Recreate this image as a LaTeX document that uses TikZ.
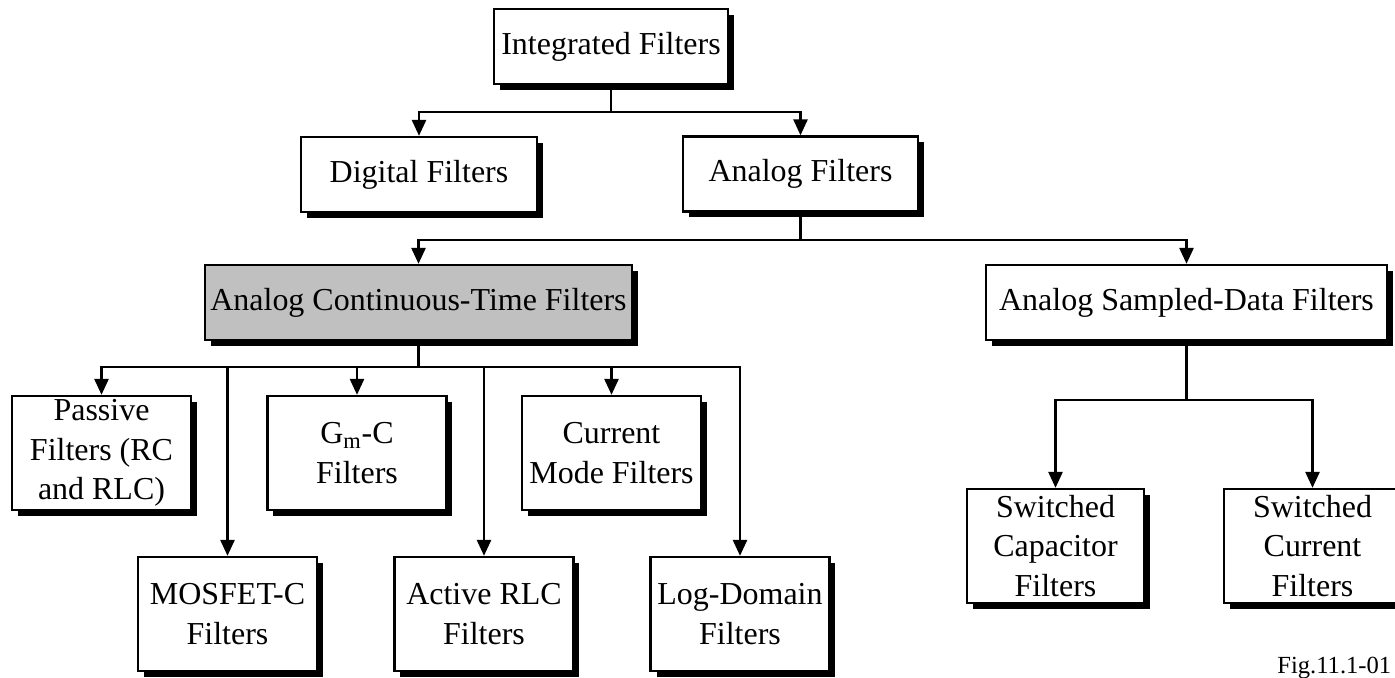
\documentclass[tikz,border=0pt]{standalone}
\usepackage{fontspec}
\setmainfont{Liberation Serif}
\usepackage{tikz}
\usetikzlibrary{arrows.meta, shadows, positioning}
\definecolor{boxgray}{RGB}{192,192,192}

\begin{document}
\begin{tikzpicture}[x=0.02cm, y=-0.02cm,
  box/.style={draw, line width=1.4pt, fill=white, align=center, inner sep=0pt,
    font=\fontsize{18.2}{22.6}\selectfont,
    drop shadow={shadow xshift=3.4pt, shadow yshift=-3.4pt, fill=black, opacity=1}},
  flat/.style={box, minimum height=1.5cm},
  tall/.style={box, minimum width=3.58cm, minimum height=2.28cm},
  conn/.style={line width=1.2pt, -{Triangle[length=9pt, width=8pt]}}]
\useasboundingbox (0,0) rectangle (1395,677);

\node [flat, minimum width=4.68cm] (integ) at (611,46.5) {Integrated Filters};
\node [flat, minimum width=4.72cm] (digital) at (419,174.5) {Digital Filters};
\node [flat, minimum width=4.70cm] (analog) at (800.5,174) {Analog Filters};

\node [flat, minimum width=8.54cm, fill=boxgray] (contin) at (418.5,302.5) {Analog Continuous-Time Filters};
\node [flat, minimum width=8.02cm] (sampled) at (1186.5,302.5) {Analog Sampled-Data Filters};

\node [tall] (passive) at (101.5,453) {Passive\\Filters (RC\\and RLC)};
\node [tall] (gmc) at (357,453) {G\textsubscript{m}-C\\Filters};
\node [tall] (curmode) at (611.5,453) {Current\\Mode Filters};
\node [tall] (mosfet) at (227.5,614) {MOSFET-C\\Filters};
\node [tall] (activerlc) at (484,614) {Active RLC\\Filters};
\node [tall] (logdomain) at (740,614) {Log-Domain\\Filters};

\node [tall, minimum width=3.54cm] (swcap) at (1055.5,546) {Switched\\Capacitor\\Filters};
\node [tall, minimum width=3.54cm] (swcur) at (1312.5,546) {Switched\\Current\\Filters};

\draw [conn] (integ.south) -- ++(0,27) -| (digital.north);
\draw [conn] (integ.south) -- ++(0,27) -| (analog.north);

\draw [conn] (analog.south) -- ++(0,27) -| (contin.north);
\draw [conn] (analog.south) -- ++(0,27) -| (sampled.north);

\foreach \kid in {passive, mosfet, gmc, activerlc, curmode, logdomain}
  \draw [conn] (contin.south) -- ++(0,26) -| (\kid.north);

\draw [conn] (sampled.south) -- ++(0,59) -| (swcap.north);
\draw [conn] (sampled.south) -- ++(0,59) -| (swcur.north);

\node [anchor=base west, inner sep=0pt, font=\fontsize{14}{16}\selectfont] (figlabel) at (1277,673) {Fig.11.1-01};
\end{tikzpicture}
\end{document}
